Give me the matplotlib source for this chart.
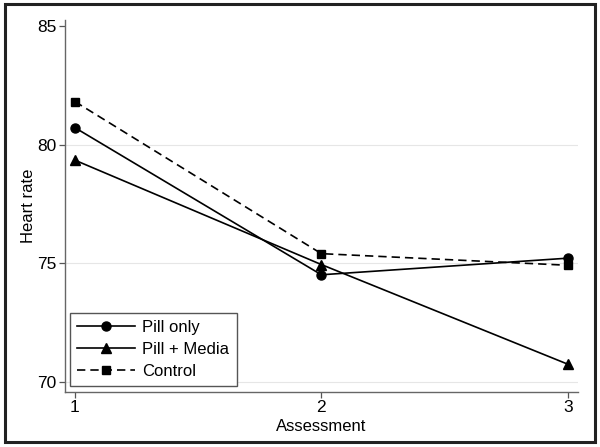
import matplotlib.pyplot as plt
from matplotlib.patches import Rectangle

# data
assessment = [1, 2, 3]
pill_only = [80.72, 74.52, 75.22]
pill_media = [79.35, 74.95, 70.75]
control = [81.82, 75.41, 74.92]
yticks = [70, 75, 80, 85]

plt.rcParams['font.family'] = ['Liberation Sans', 'DejaVu Sans']

fig = plt.figure(figsize=(6.0, 4.47), dpi=100)
ax = fig.add_axes([0.1083, 0.123, 0.8547, 0.832])

# outer frame around the whole figure
fig.patches.append(Rectangle((0.008, 0.012), 0.984, 0.978,
                             transform=fig.transFigure,
                             facecolor='none', edgecolor='#222222',
                             linewidth=2.2))

for y in yticks[:-1]:
    ax.axhline(y, color='#e6e6e6', linewidth=0.8, zorder=0)

ax.plot(assessment, pill_only, color='black', linewidth=1.2,
        marker='o', markersize=6.5, label='Pill only')
ax.plot(assessment, pill_media, color='black', linewidth=1.2,
        marker='^', markersize=7, label='Pill + Media')
ax.plot(assessment, control, color='black', linewidth=1.2,
        linestyle=(0, (5, 3)), marker='s', markersize=6, label='Control')

ax.set_xlim(0.96, 3.04)
ax.set_ylim(69.58, 85.25)
ax.set_xticks(assessment)
ax.set_yticks(yticks)
ax.tick_params(direction='out', length=4, width=0.9, color='#555555',
               labelsize=12.5, pad=2)

for side in ['top', 'right']:
    ax.spines[side].set_visible(False)
for side in ['left', 'bottom']:
    ax.spines[side].set_color('#666666')
    ax.spines[side].set_linewidth(1.0)

ax.set_xlabel('Assessment', fontsize=12, labelpad=2.5)
ax.set_ylabel('Heart rate', fontsize=12, labelpad=1)

leg = ax.legend(loc='lower left', bbox_to_anchor=(0.009, 0.016),
                borderaxespad=0, fontsize=12, handlelength=3.5,
                handletextpad=0.4, labelspacing=0.4, borderpad=0.45,
                fancybox=False, framealpha=1)
leg.get_frame().set_edgecolor('#555555')
leg.get_frame().set_linewidth(1.0)

fig.savefig('out.png', dpi=100)
